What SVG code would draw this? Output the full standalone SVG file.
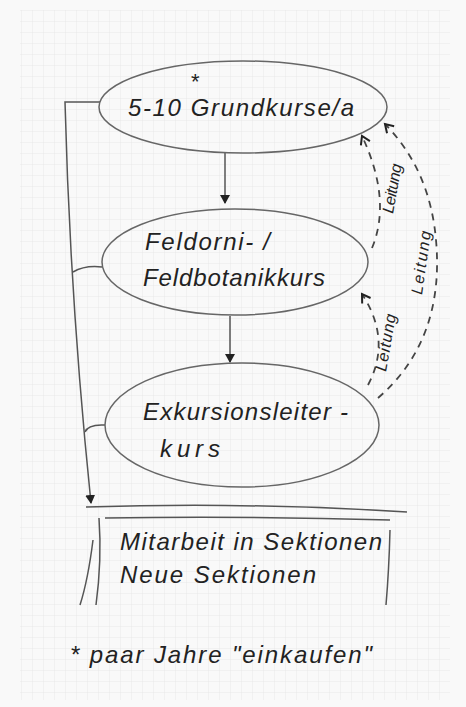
<svg xmlns="http://www.w3.org/2000/svg" width="466" height="707" viewBox="0 0 466 707">
<defs>
<pattern id="grid" width="11" height="11" patternUnits="userSpaceOnUse">
<path d="M11 0V11M0 11H11" fill="none" stroke="#e8e8e8" stroke-width="1"/>
</pattern>
<marker id="ah" markerWidth="10" markerHeight="10" refX="8" refY="5" orient="auto" markerUnits="userSpaceOnUse">
<path d="M0 0L9 5L0 10Z" fill="#222"/>
</marker>
<marker id="oh" markerWidth="12" markerHeight="12" refX="9" refY="6" orient="auto" markerUnits="userSpaceOnUse">
<path d="M1 1L9 6L1 11" fill="none" stroke="#222" stroke-width="2"/>
</marker>
</defs>
<style>
.node{fill:none;stroke:#666;stroke-width:1.5}
.line{fill:none;stroke:#555;stroke-width:1.5}
.dash{fill:none;stroke:#444;stroke-width:1.8;stroke-dasharray:7 6}
.t{font-family:"Liberation Sans","DejaVu Sans",sans-serif;font-style:italic;fill:#222;font-size:24px}
.s{font-family:"Liberation Sans","DejaVu Sans",sans-serif;font-style:italic;fill:#222;font-size:16px}
</style>
<rect width="466" height="707" fill="#f9f9f9"/>
<rect x="20" y="10" width="430" height="690" fill="url(#grid)"/>

<g id="connectors">
<path class="line" d="M225 153V203" marker-end="url(#ah)"/>
<path class="line" d="M230 316V362" marker-end="url(#ah)"/>
<path class="line" d="M100 102H65Q70 300 91 503" marker-end="url(#ah)"/>
<path class="line" d="M102 267Q85 265 73 272"/>
<path class="line" d="M105 425Q88 424 85 432"/>
<path class="dash" d="M372 248Q392 200 362 136" marker-end="url(#oh)"/>
<path class="dash" d="M368 385Q392 340 362 294" marker-end="url(#oh)"/>
<path class="dash" d="M378 398Q445 340 436 240Q430 170 385 124" marker-end="url(#oh)"/>
<text class="s" transform="translate(393 214) rotate(-80)" textLength="50">Leitung</text>
<text class="s" transform="translate(386 372) rotate(-80)" textLength="58">Leitung</text>
<text class="s" transform="translate(422 295) rotate(-82)" textLength="64">Leitung</text>
</g>

<g id="n1">
<ellipse class="node" cx="243" cy="107" rx="144" ry="46"/>
<text class="s" x="191" y="89" style="font-size:22px;font-style:normal">*</text>
<text class="t" x="128" y="116" textLength="226">5-10 Grundkurse/a</text>
</g>

<g id="n2">
<ellipse class="node" cx="235" cy="262" rx="133" ry="53"/>
<text class="t" x="145" y="250" textLength="125">Feldorni- /</text>
<text class="t" x="143" y="286" textLength="182">Feldbotanikkurs</text>
</g>

<g id="n3">
<ellipse class="node" cx="242" cy="425" rx="137" ry="62"/>
<text class="t" x="143" y="420" textLength="205">Exkursionsleiter -</text>
<text class="t" x="160" y="457" textLength="60">kurs</text>
</g>

<g id="n4">
<path class="line" d="M86 507Q250 502 407 512"/>
<path class="line" d="M105 518Q250 516 390 520"/>
<path class="line" d="M99 518Q102 560 96 605"/>
<path class="line" d="M93 540Q88 580 80 605"/>
<path class="line" d="M390 530Q389 570 386 605"/>
<text class="t" x="120" y="550" textLength="262">Mitarbeit in Sektionen</text>
<text class="t" x="120" y="583" textLength="196">Neue Sektionen</text>
</g>

<g id="note">
<text class="t" x="70" y="663" textLength="302">* paar Jahre "einkaufen"</text>
</g>
</svg>
